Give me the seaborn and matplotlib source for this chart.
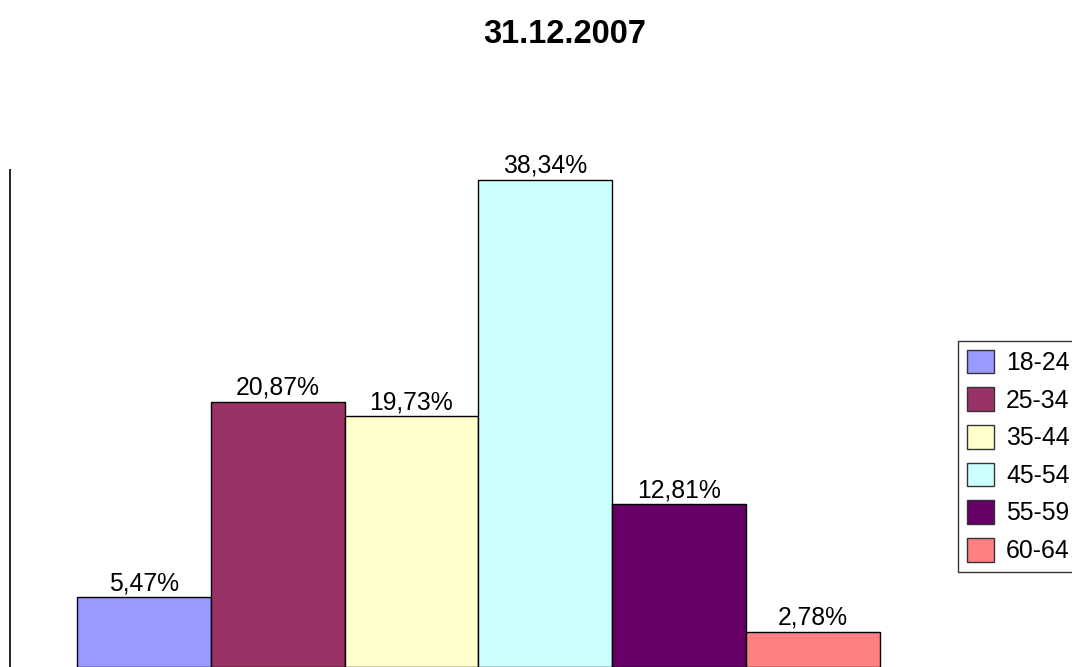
import seaborn as sns
import matplotlib
import matplotlib.pyplot as plt
import pandas as pd
from matplotlib.patches import Patch

matplotlib.use('Agg')

# данные с графика
age_groups = ['18-24', '25-34', '35-44', '45-54', '55-59', '60-64']
shares = [5.47, 20.87, 19.73, 38.34, 12.81, 2.78]
colors = ['#9999FF', '#993366', '#FFFFCC', '#CCFFFF', '#660066', '#FF8080']
title = '31.12.2007'

df = pd.DataFrame({'group': age_groups, 'share': shares})

sns.set_style('white')
plt.rcParams['font.family'] = ['Liberation Sans', 'DejaVu Sans']
plt.rcParams['text.color'] = 'black'

W, H = 1072, 667
fig = plt.figure(figsize=(W / 100, H / 100), dpi=100)
ax = fig.add_axes([10 / W, 0, 936.6 / W, 497.5 / H])

sns.barplot(
    data=df, x='group', y='share', hue='group',
    palette=colors, width=1.0, edgecolor='black', linewidth=1.0,
    legend=False, ax=ax, saturation=1
)

ax.set_xlim(-1.0, 6.0)
ax.set_ylim(0, 39.15)
ax.set_xticks([])
ax.set_yticks([])
ax.set_xlabel('')
ax.set_ylabel('')
for side in ['top', 'right', 'bottom']:
    ax.spines[side].set_visible(False)
ax.spines['left'].set_color('#222222')
ax.spines['left'].set_linewidth(1.4)

for cont in ax.containers:
    ax.bar_label(cont, fmt=lambda v: f'{v:.2f}%'.replace('.', ','),
                 padding=1.5, fontsize=17.8, color='black')

fig.text(565 / W, 1 - 43 / H, title, ha='center', va='baseline',
         fontsize=23.5, fontweight='bold', color='black')

handles = [Patch(facecolor=c, edgecolor='#333333', linewidth=1.0) for c in colors]
fig.legend(
    handles, age_groups, loc='upper left',
    bbox_to_anchor=(958 / W, 1 - 341 / H), bbox_transform=fig.transFigure,
    prop={'size': 17.8}, frameon=True, fancybox=False, edgecolor='#333333',
    framealpha=1, handlelength=1.1, handleheight=1.1, handletextpad=0.5,
    labelspacing=0.5, borderpad=0.35, borderaxespad=0
)
fig.legends[0].get_frame().set_linewidth(1.0)

fig.savefig('out.png', dpi=100)
